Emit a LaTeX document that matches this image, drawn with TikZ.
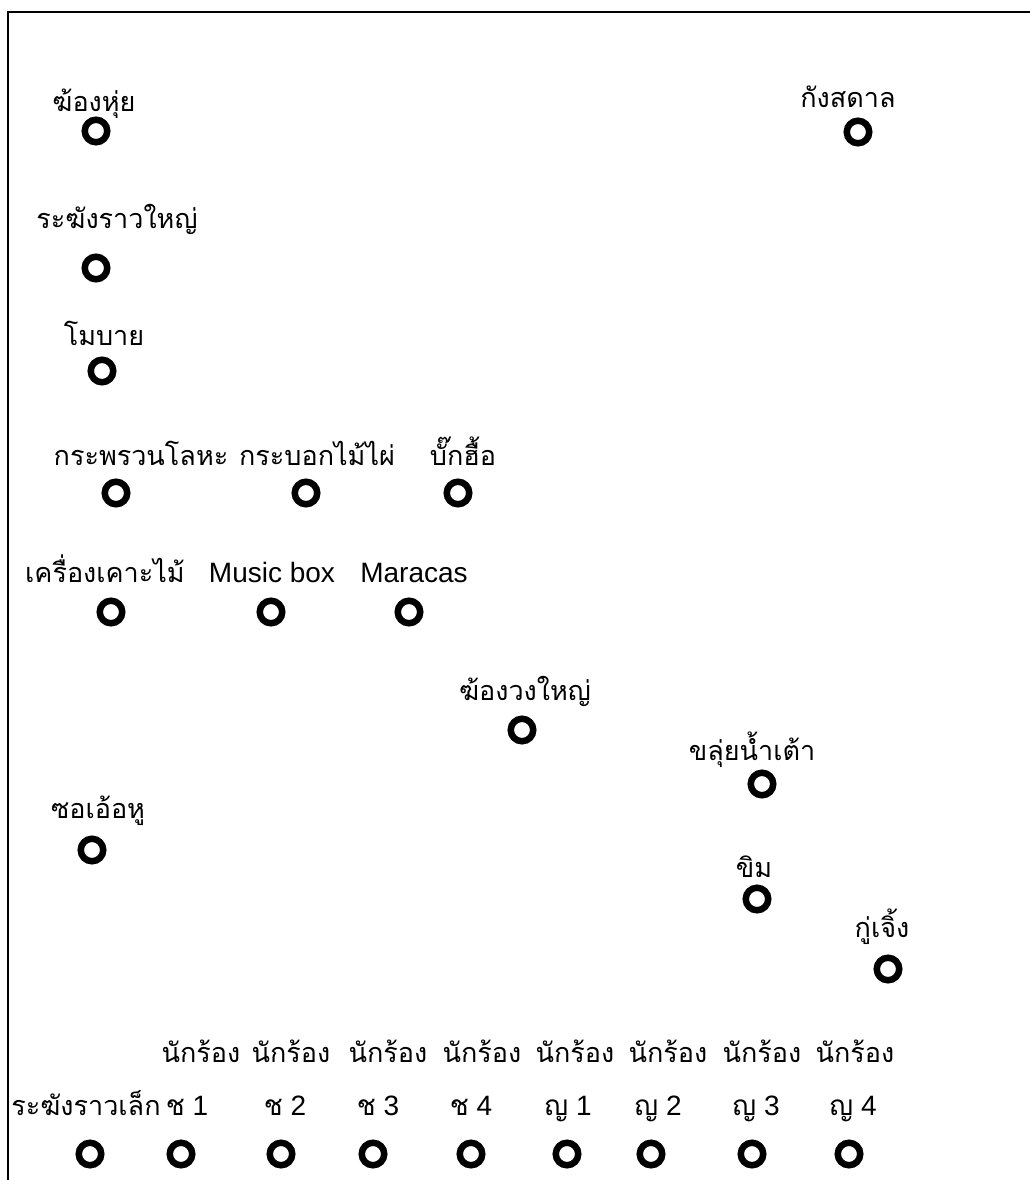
\documentclass[tikz,border=0pt]{standalone}
\usepackage{fontspec}
\setmainfont{Liberation Sans}
\newfontfamily\thaifnt[Script=Thai]{Loma}
\begin{document}
\begin{tikzpicture}[x=1pt,y=-1pt,
  inst/.style={circle, draw, line width=6.5pt, minimum size=22.5pt, inner sep=0pt},
  lab/.style={anchor=base, inner sep=0pt, font=\thaifnt\fontsize{27}{30}\selectfont},
  latin/.style={anchor=base, inner sep=0pt, font=\fontsize{28}{30}\selectfont},
  frame/.style={line width=2pt}]
\useasboundingbox (0,0) rectangle (1030,1180);
\coordinate (tl) at (8,12);
\coordinate (tr) at (1030,12);
\coordinate (bl) at (8,1180);
\draw[frame] (tr) -- (tl) -- (bl);

% upper instruments
\node[lab] (l1) at (94,112) {ฆ้องหุ่ย};
\node[inst] (c1) at (96,131) {};
\node[lab] (l2) at (848,108) {กังสดาล};
\node[inst] (c2) at (858,132) {};
\node[lab] (l3) at (117,228) {ระฆังราวใหญ่};
\node[inst] (c3) at (96,268) {};
\node[lab] (l4) at (104,345) {โมบาย};
\node[inst] (c4) at (102,371) {};
\node[lab] (l5) at (141,465) {กระพรวนโลหะ};
\node[inst] (c5) at (116,493) {};
\node[lab] (l6) at (317,465) {กระบอกไม้ไผ่};
\node[inst] (c6) at (306,493) {};
\node[lab] (l7) at (463,465) {บั๊กฮื้อ};
\node[inst] (c7) at (458,493) {};
\node[lab] (l8) at (105,582) {เครื่องเคาะไม้};
\node[inst] (c8) at (111,612) {};
\node[latin] (l9) at (272,582) {Music box};
\node[inst] (c9) at (271,612) {};
\node[latin] (l10) at (414,582) {Maracas};
\node[inst] (c10) at (409,612) {};
\node[lab] (l11) at (525,700) {ฆ้องวงใหญ่};
\node[inst] (c11) at (522,730) {};
\node[lab] (l12) at (752,760) {ขลุ่ยน้ำเต้า};
\node[inst] (c12) at (762,784) {};
\node[lab] (l13) at (98,818) {ซอเอ้อหู};
\node[inst] (c13) at (92,850) {};
\node[lab] (l14) at (754,877) {ขิม};
\node[inst] (c14) at (757,899) {};
\node[lab] (l15) at (882,937) {กู่เจิ้ง};
\node[inst] (c15) at (888,969) {};

% singers row
\foreach \i/\x in {1/201,2/291,3/388,4/482,5/575,6/668,7/762,8/855}
  \node[lab] (s\i) at (\x,1062) {นักร้อง};

\node[lab] (l16) at (86,1115) {ระฆังราวเล็ก};
\node[inst] (c16) at (90,1154) {};
\foreach \i/\x/\cx/\ch/\n in {1/187/181/ช/1,2/285/281/ช/2,3/378/373/ช/3,4/471/471/ช/4,
                              5/568/567/ญ/1,6/658/651/ญ/2,7/756/752/ญ/3,8/853/849/ญ/4}{
  \node[latin] (v\i) at (\x,1115) {{\thaifnt \ch} \n};
  \node[inst] (p\i) at (\cx,1154) {};
}
\end{tikzpicture}
\end{document}
